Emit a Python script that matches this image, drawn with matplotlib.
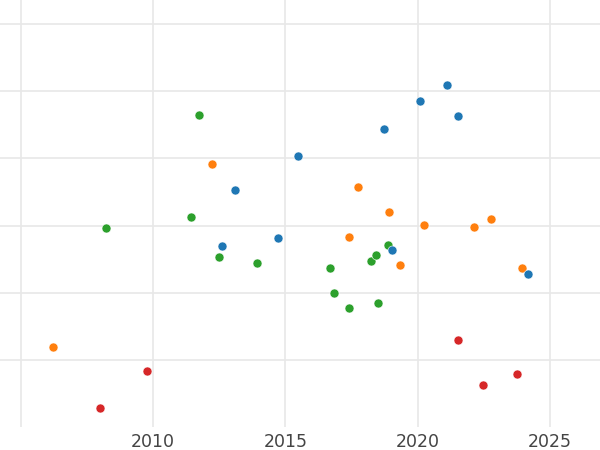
import matplotlib
matplotlib.use("Agg")
import matplotlib.pyplot as plt

# values (x = year, y = arbitrary units)
blue_x = [2013.09, 2012.60, 2014.72, 2015.47, 2018.72, 2020.08, 2021.10, 2021.52, 2019.03, 2024.17]
blue_y = [35.3, 27.0, 28.1, 40.4, 44.4, 48.5, 50.9, 46.3, 26.4, 22.8]

orange_x = [2006.21, 2012.23, 2017.74, 2018.92, 2017.40, 2020.24, 2022.13, 2022.77, 2019.33, 2023.94]
orange_y = [11.9, 39.2, 35.7, 32.0, 28.3, 30.1, 29.8, 31.0, 24.1, 23.7]

green_x = [2008.21, 2011.73, 2011.43, 2012.49, 2013.92, 2016.68, 2016.83, 2017.40,
           2018.23, 2018.42, 2018.87, 2018.50]
green_y = [29.6, 46.5, 31.3, 25.3, 24.4, 23.7, 20.0, 17.7, 24.7, 25.6, 27.1, 18.5]

red_x = [2007.99, 2009.77, 2021.52, 2022.47, 2023.76]
red_y = [2.8, 8.3, 13.0, 6.3, 7.9]

xticks = [2005, 2010, 2015, 2020, 2025]
xlabels = ["", "2010", "2015", "2020", "2025"]
yticks = [10, 20, 30, 40, 50, 60]

fig = plt.figure(figsize=(6, 4.5), dpi=100)
ax = fig.add_axes([0, 23 / 450, 1, 427 / 450])

kw = dict(s=42, edgecolors="white", linewidths=0.4, zorder=3)
ax.scatter(red_x, red_y, color="#d62728", **kw)
ax.scatter(green_x, green_y, color="#2ca02c", **kw)
ax.scatter(orange_x, orange_y, color="#ff7f0e", **kw)
ax.scatter(blue_x, blue_y, color="#1f77b4", **kw)

ax.set_xlim(2004.21, 2026.89)
ax.set_ylim(0, 63.6)
ax.set_xticks(xticks)
ax.set_xticklabels(xlabels)
ax.set_yticks(yticks)
ax.set_yticklabels([])
ax.grid(True, color="#e8e8e8", linewidth=1.2, zorder=0)
ax.set_axisbelow(True)
ax.tick_params(length=0, labelsize=12.5, labelcolor="#444444", pad=4)
for s in ax.spines.values():
    s.set_visible(False)

fig.savefig("out.png", dpi=100)
